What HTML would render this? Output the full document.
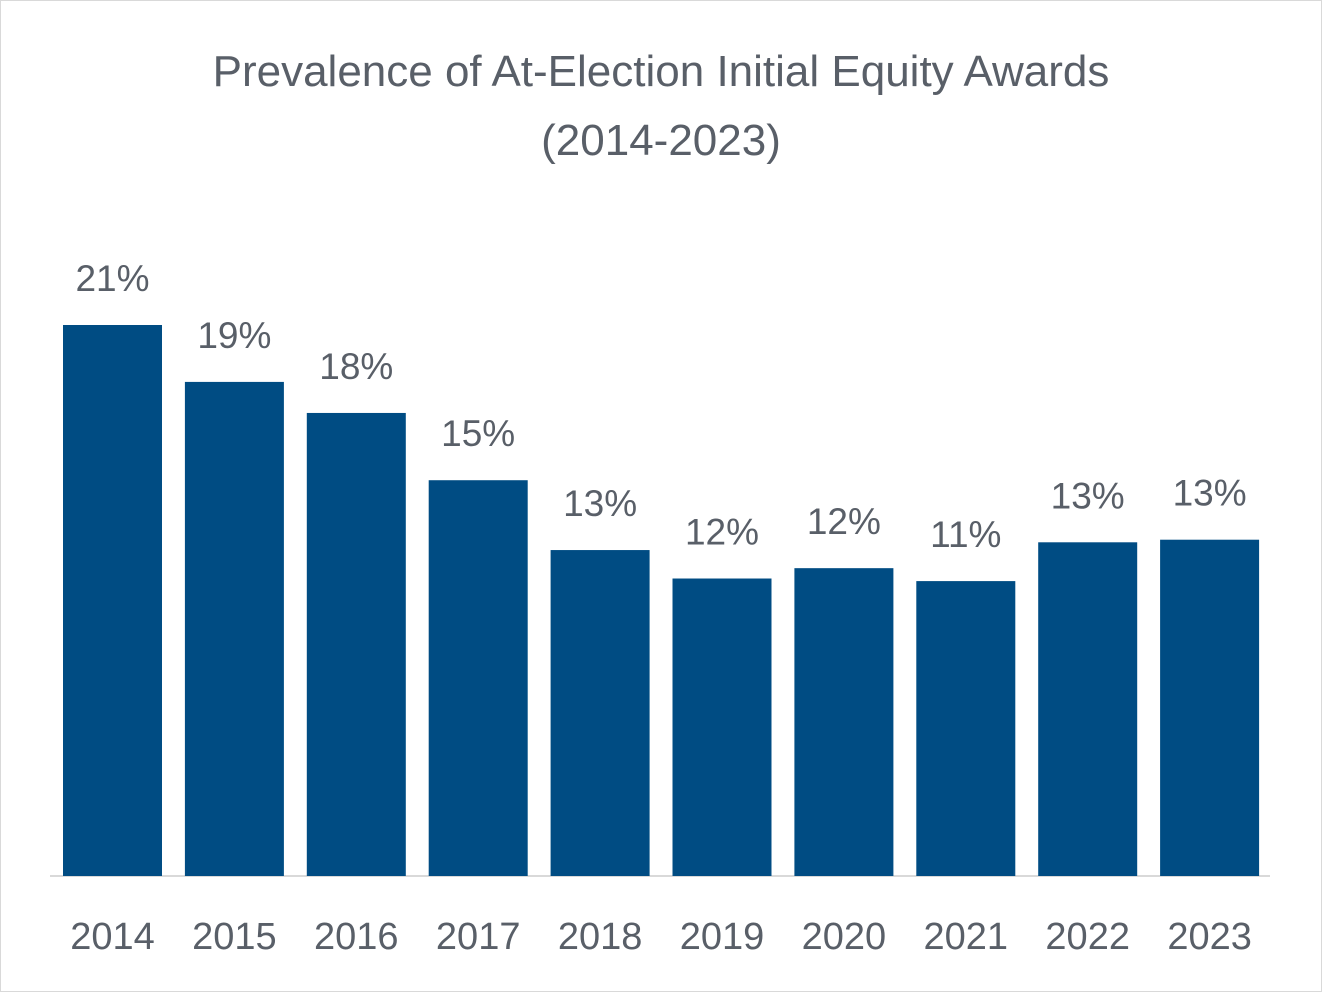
<!DOCTYPE html>
<html><head><meta charset="utf-8"><style>
body{margin:0;background:#fff}
svg{display:block;font-family:"Liberation Sans",sans-serif}
</style></head><body>
<svg id="chart" width="1322" height="992">
<rect x="0.5" y="0.5" width="1321" height="991" fill="#fff" stroke="#d9d9d9"/>
<text x="661" y="86" text-anchor="middle" font-size="44" fill="#595f68">Prevalence of At-Election Initial Equity Awards</text>
<text x="661" y="155" text-anchor="middle" font-size="44" fill="#595f68">(2014-2023)</text>
<line x1="50" y1="876" x2="1270" y2="876" stroke="#d9d9d9" stroke-width="2"/>
<g id="bars"></g>
</svg>
<script>
const categories=["2014","2015","2016","2017","2018","2019","2020","2021","2022","2023"];
const values=[21.3,19.1,17.9,15.3,12.6,11.5,11.9,11.4,12.9,13.0];
const labels=["21%","19%","18%","15%","13%","12%","12%","11%","13%","13%"];
const base=876, scale=551/21.3, x0=112.5, step=121.9, bw=99;
const g=document.getElementById('bars'), ns='http://www.w3.org/2000/svg';
const xs=i=>x0+step*i, ys=v=>base-v*scale;
categories.forEach((c,i)=>{
  const cx=xs(i), top=ys(values[i]);
  const r=document.createElementNS(ns,'rect');
  r.setAttribute('x',cx-bw/2);r.setAttribute('y',top);r.setAttribute('width',bw);r.setAttribute('height',base-top);r.setAttribute('fill','#004c83');
  
  
  g.appendChild(r);
  const t=document.createElementNS(ns,'text');
  t.setAttribute('x',cx);t.setAttribute('y',top-34);t.setAttribute('text-anchor','middle');t.setAttribute('font-size','37');t.setAttribute('fill','#595f68');
  t.textContent=labels[i];
  
  
  g.appendChild(t);
  const a=document.createElementNS(ns,'text');
  a.setAttribute('x',cx);a.setAttribute('y',949);a.setAttribute('text-anchor','middle');a.setAttribute('font-size','38');a.setAttribute('fill','#595f68');
  a.textContent=c;
  
  
  g.appendChild(a);
});
</script>
</body></html>
